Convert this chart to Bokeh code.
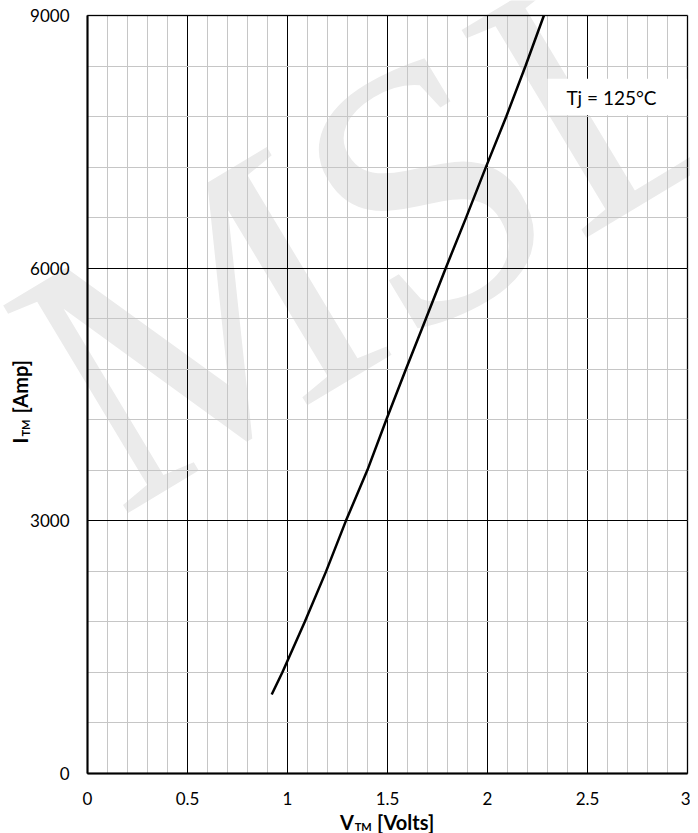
import math
from bokeh.plotting import figure
from bokeh.models import (Range1d, SingleIntervalTicker, NumeralTickFormatter,
                          Label, BoxAnnotation)
from bokeh.embed import file_html
from bokeh.resources import INLINE

# ---- data ----
v_tm = [0.921, 0.974, 1.086, 1.193, 1.292, 1.399, 1.494, 1.592, 1.692,
        1.791, 1.893, 1.992, 2.094, 2.190, 2.282]
i_tm = [938, 1200, 1800, 2400, 3000, 3600, 4200, 4800, 5400,
        6000, 6600, 7200, 7800, 8400, 9000]
x_span = (0, 3)
y_span = (0, 9000)
x_major = 0.5
y_major = 3000
annotation_text = "Tj = 125°C"
watermark_text = "MSL"

FONT = "Lato"
W, H = 690, 833

# visible ranges extend beyond the data region so that axis titles fit inside
p = figure(width=W, height=H, output_backend="svg", toolbar_location=None,
           x_range=Range1d(-0.435, 3.015), y_range=Range1d(-712, 9178),
           min_border_left=0, min_border_right=0, min_border_top=0,
           min_border_bottom=0)
p.background_fill_color = "white"
p.border_fill_color = "white"
p.outline_line_color = None

# watermark
wm = Label(x=1.465, y=6625, text=watermark_text, text_font="Liberation Serif",
           text_font_size="370px", text_color="#ebebeb", angle=math.radians(31),
           text_align="center", text_baseline="middle")
wm.level = "image"
p.add_layout(wm)

p.xaxis.ticker = SingleIntervalTicker(interval=x_major, num_minor_ticks=5)
p.yaxis.ticker = SingleIntervalTicker(interval=y_major, num_minor_ticks=5)
p.xaxis.formatter = NumeralTickFormatter(format="0.[0]")
p.yaxis.formatter = NumeralTickFormatter(format="0")
p.xaxis.fixed_location = y_span[0]
p.yaxis.fixed_location = x_span[0]
p.xaxis.bounds = x_span
p.yaxis.bounds = y_span

for ax in (p.xaxis, p.yaxis):
    ax.axis_line_color = "black"
    ax.axis_line_width = 2
    ax.major_tick_line_color = None
    ax.minor_tick_line_color = None
    ax.major_label_text_font = FONT
    ax.major_label_text_font_size = "17px"
    ax.major_label_text_color = "black"
p.xaxis.major_label_standoff = 12
p.yaxis.major_label_standoff = 12

for g, b, cb in ((p.xgrid, x_span, y_span), (p.ygrid, y_span, x_span)):
    g.bounds = b
    g.cross_bounds = cb
    g.grid_line_color = "black"
    g.grid_line_width = 1
    g.minor_grid_line_color = "#c6c6c6"
    g.minor_grid_line_width = 1

p.line(v_tm, i_tm, line_color="black", line_width=2.5)

# plot-area border
p.add_layout(BoxAnnotation(left=x_span[0], right=x_span[1], bottom=y_span[0],
                           top=y_span[1], fill_color=None, line_color="black",
                           line_width=2))

# annotation box
p.add_layout(BoxAnnotation(left=2.30, right=2.995, top=8250, bottom=7815,
                           fill_color="white", fill_alpha=1.0, line_color=None))
p.add_layout(Label(x=2.62, y=8025, text=annotation_text, text_font=FONT,
                   text_font_size="19px", text_align="center",
                   text_baseline="middle", text_color="black"))

# axis titles with subscripts
lab = dict(text_font=FONT, text_font_style="bold", text_color="black",
           text_baseline="middle")
p.add_layout(Label(x=1.3325, y=-570, text="V", text_font_size="20px",
                   text_align="right", **lab))
p.add_layout(Label(x=1.336, y=-632, text="TM", text_font_size="11px",
                   text_align="left", **lab))
p.add_layout(Label(x=1.4475, y=-570, text="[Volts]", text_font_size="20px",
                   text_align="left", **lab))

p.add_layout(Label(x=-0.3375, y=3989, text="I", text_font_size="20px",
                   text_align="right", angle=math.pi / 2, **lab))
p.add_layout(Label(x=-0.3085, y=4001, text="TM", text_font_size="11px",
                   text_align="left", angle=math.pi / 2, **lab))
p.add_layout(Label(x=-0.3375, y=4274, text="[Amp]", text_font_size="20px",
                   text_align="left", angle=math.pi / 2, **lab))

open("out.html", "w").write(file_html(p, INLINE))
